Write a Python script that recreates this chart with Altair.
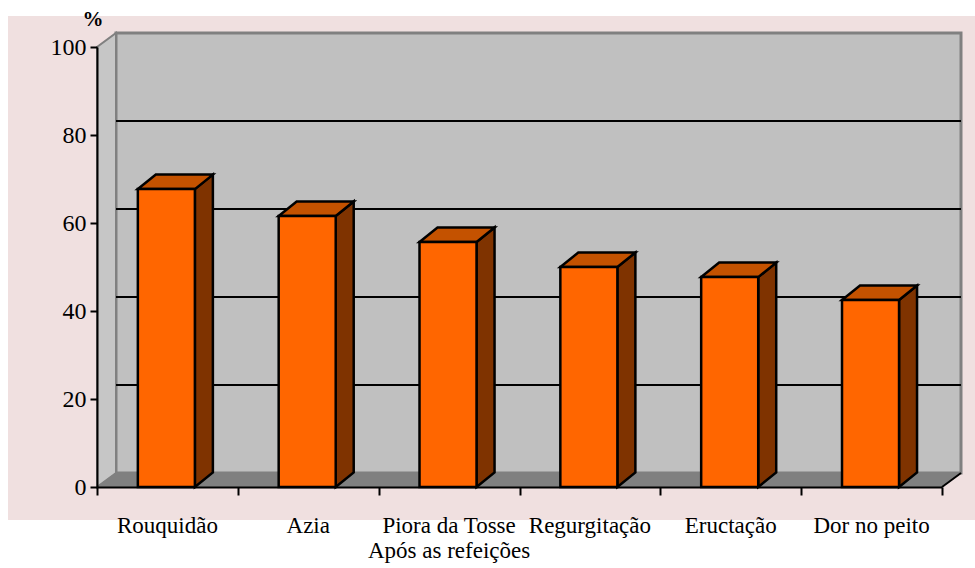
import altair as alt
import pandas as pd

# ---- data ----
categories = ["Rouquidão", "Azia", "Piora da Tosse\nApós as refeições",
              "Regurgitação", "Eructação", "Dor no peito"]
values = [67.7, 61.6, 55.7, 50.0, 47.7, 42.5]
y_ticks = [0, 20, 40, 60, 80, 100]
grid_values = [20, 40, 60, 80]

# ---- geometry (style) ----
N = len(categories)
W, H = 845, 440
DX = 19 / (W / N)      # wall depth in category units
DY = 14 / (H / 100)    # wall depth in %
BDX = 18 / (W / N)     # bar depth
BDY = 14.5 / (H / 100)
BAR_L, BAR_R = 0.29, 0.695

xs = alt.Scale(domain=[0, N], nice=False, zero=False)
ys = alt.Scale(domain=[0, 100], nice=False)

FONT = "'Liberation Serif', 'Times New Roman', serif"

x_axis = alt.Axis(values=list(range(N + 1)), labels=False, title=None, grid=False,
                  domainColor="black", domainWidth=2, tickColor="black", tickWidth=2,
                  tickSize=8, zindex=1)
y_axis = alt.Axis(values=y_ticks, title=None, grid=False, domainColor="black",
                  domainWidth=2, tickColor="black", tickWidth=2, tickSize=7,
                  labelFont=FONT, labelFontSize=24, labelColor="black", labelPadding=4,
                  zindex=1)

def X(field):
    return alt.X(field, type="quantitative", scale=xs, axis=x_axis)

def Y(field):
    return alt.Y(field, type="quantitative", scale=ys, axis=y_axis)

# background panel
bg = alt.Chart(pd.DataFrame({"a": [0]})).mark_rect(color="#f0e0e0").encode(
    x=alt.value(8 - 97), x2=alt.value(975 - 97), y=alt.value(16 - 47), y2=alt.value(520 - 47))

# back wall
back_df = pd.DataFrame({"x": [DX], "x2": [N + DX], "y": [DY], "y2": [100 + DY]})
back = alt.Chart(back_df).mark_rect(fill="#c0c0c0", stroke="#808080", strokeWidth=3).encode(
    x=X("x"), x2="x2", y=Y("y"), y2="y2")

# left wall
left_df = pd.DataFrame({"x": [0, DX], "y": [0, DY], "y2": [100, 100 + DY]})
left = alt.Chart(left_df).mark_area(fill="#c6c6c6", stroke="#808080", strokeWidth=2).encode(
    x=X("x"), y=Y("y"), y2="y2")

# floor
floor_df = pd.DataFrame({"x": [0, DX, N, N + DX], "y": [0, 0, 0, DY], "y2": [0, DY, DY, DY]})
floor = alt.Chart(floor_df).mark_area(fill="#808080", stroke="#808080", strokeWidth=1).encode(
    x=X("x"), y=Y("y"), y2="y2")

floor_edge = alt.Chart(pd.DataFrame({"x": [N, N + DX], "y": [0, DY]})).mark_line(
    color="black", strokeWidth=2).encode(x=X("x"), y=Y("y"))

# gridlines on back wall
grid_df = pd.DataFrame({"x": [DX] * len(grid_values), "x2": [N + DX] * len(grid_values),
                        "y": [g + DY for g in grid_values]})
grid = alt.Chart(grid_df).mark_rule(color="black", strokeWidth=2).encode(
    x=X("x"), x2="x2", y=Y("y"))

# bars
front_rows, top_rows, side_rows = [], [], []
for i, v in enumerate(values):
    x1, x2 = i + BAR_L, i + BAR_R
    front_rows.append({"x": x1, "x2": x2, "y": 0, "y2": v})
    for (px, lo, hi) in [(x1, v, v), (x1 + BDX, v, v + BDY), (x2, v, v + BDY),
                         (x2 + BDX, v + BDY, v + BDY)]:
        top_rows.append({"id": i, "x": px, "y": lo, "y2": hi})
    for (px, lo, hi) in [(x2, 0, v), (x2 + BDX, BDY, v + BDY)]:
        side_rows.append({"id": i, "x": px, "y": lo, "y2": hi})

side = alt.Chart(pd.DataFrame(side_rows)).mark_area(
    fill="#7f3300", stroke="black", strokeWidth=2.5, strokeJoin="miter").encode(
    x=X("x"), y=Y("y"), y2="y2", detail="id:N")
top = alt.Chart(pd.DataFrame(top_rows)).mark_area(
    fill="#c45200", stroke="black", strokeWidth=2.5, strokeJoin="miter").encode(
    x=X("x"), y=Y("y"), y2="y2", detail="id:N")
front = alt.Chart(pd.DataFrame(front_rows)).mark_rect(
    fill="#ff6600", stroke="black", strokeWidth=2.5).encode(
    x=X("x"), x2="x2", y=Y("y"), y2="y2")

# category labels
lab_df = pd.DataFrame({"pos": [i + 0.5 for i in range(N)], "cat": categories})
labels = alt.Chart(lab_df).mark_text(font=FONT, fontSize=23, baseline="alphabetic",
                                     align="center", lineBreak="\n", lineHeight=25,
                                     color="black").encode(
    x=X("pos"), y=alt.value(533 - 47), text="cat:N")

pct = alt.Chart(pd.DataFrame({"t": ["%"]})).mark_text(
    font=FONT, fontSize=21, fontWeight="bold", align="center", baseline="alphabetic",
    color="black").encode(x=alt.value(-4), y=alt.value(26 - 47), text="t:N")

chart = alt.layer(bg, back, left, floor, grid, floor_edge, side, top, front, labels, pct).properties(
    width=W, height=H, autosize=alt.AutoSizeParams(type="none"),
    padding={"left": 97, "top": 47, "right": 33, "bottom": 81},
    background="white"
).configure_view(stroke=None)

chart.save("out.html", embed_options={"renderer": "svg", "actions": False})
